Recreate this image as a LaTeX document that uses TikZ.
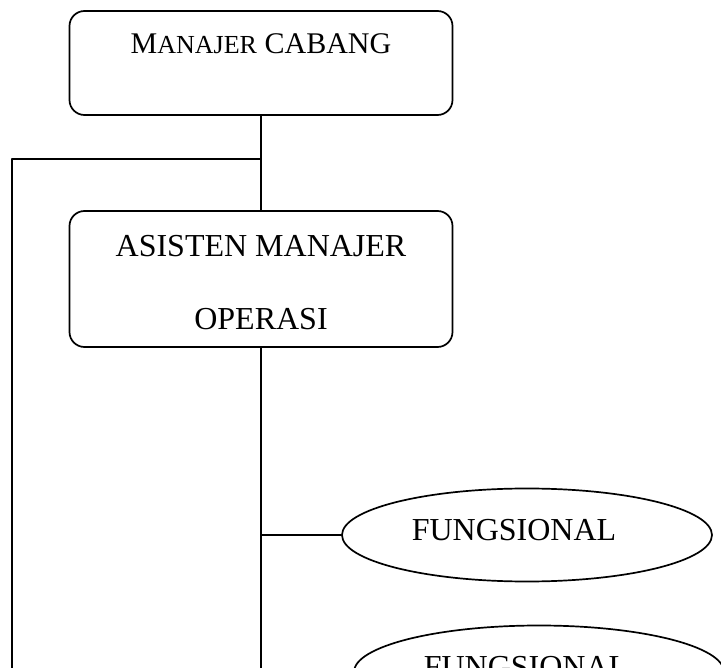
\documentclass[tikz,border=0pt]{standalone}
\usepackage{fontspec}
\setmainfont{Liberation Serif}
\usetikzlibrary{shapes.geometric}

\begin{document}
\begin{tikzpicture}[x=1pt,y=-1pt,line width=1.7pt,line cap=round,line join=round,
  jabatan/.style={draw,rounded corners=15pt,inner sep=0pt,minimum width=383pt,anchor=base,font=\fontsize{32}{38}\selectfont},
  staf/.style={draw,ellipse,inner sep=0pt,minimum width=370pt,minimum height=93pt,text height=21pt,text depth=11pt,font=\fontsize{32}{38}\selectfont}]
  \useasboundingbox (0,0) rectangle (721,668);
  \clip (0,0) rectangle (721,668);
  \node[jabatan,text height=43pt,text depth=61pt] (manajer) at (261,54) {\fontsize{30}{36}\selectfont M{\fontsize{26}{30}\selectfont ANAJER} CABANG};
  \node[jabatan,text height=46pt,text depth=90pt] (asisten) at (261,257) {\begin{tabular}[t]{@{}c@{}}ASISTEN MANAJER\\[35pt]OPERASI\end{tabular}};
  \node[staf] (fung1) at (527,535) {FUNGSIONAL\hspace*{26pt}};
  \node[staf] (fung2) at (539,672) {FUNGSIONAL\hspace*{26pt}};
  \coordinate (cabang) at (manajer.south |- 0,159);
  \coordinate (kiri) at (12,690);
  \coordinate (bawah) at (asisten.south |- kiri);
  \draw (manajer.south) -- (asisten.north);
  \draw (cabang) -| (kiri);
  \draw (asisten.south) -- (bawah);
  \draw (asisten.south |- fung1.west) -- (fung1.west);
\end{tikzpicture}
\end{document}
